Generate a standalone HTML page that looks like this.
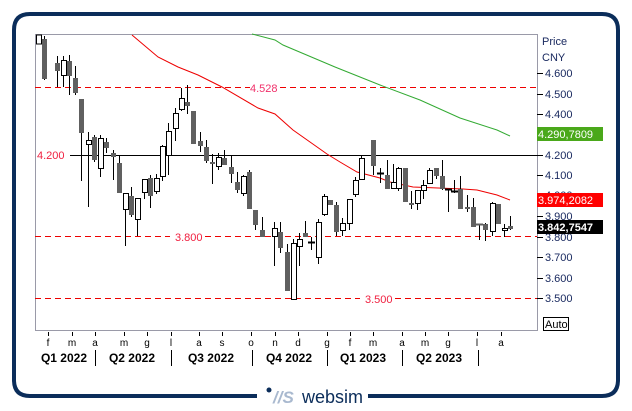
<!DOCTYPE html>
<html><head><meta charset="utf-8"><style>
html,body{margin:0;padding:0;background:#fff;}
svg{display:block;font-family:"Liberation Sans",sans-serif;}
</style></head><body>
<svg width="632" height="411" viewBox="0 0 632 411" xmlns="http://www.w3.org/2000/svg">
<rect x="0" y="0" width="632" height="411" fill="#fff"/>
<!-- frame -->
<path d="M257 396 H30 Q14 396 14 380 V30 Q14 14 30 14 H602 Q618 14 618 30 V380 Q618 396 602 396 H368" fill="none" stroke="#0b2d5a" stroke-width="4"/>
<circle cx="269" cy="390" r="2.5" fill="#0b2d5a"/>
<text x="273" y="403" font-size="17" font-style="italic" font-weight="bold" fill="#a9b9cf">//S</text>
<text x="302" y="403" font-size="18" fill="#0b2d5a">websim</text>
<!-- plot box -->
<rect x="35.5" y="34.5" width="502" height="296" fill="#fff" stroke="#9a9aa8" stroke-width="1"/>
<!-- horizontal lines -->
<line x1="35" y1="87.5" x2="250" y2="87.5" stroke="#e00" stroke-dasharray="6,4"/>
<line x1="280" y1="87.5" x2="537" y2="87.5" stroke="#e00" stroke-dasharray="6,4"/>
<text x="250" y="92" font-size="11" fill="#f0306a">4.528</text>
<line x1="70" y1="155.5" x2="537" y2="155.5" stroke="#000"/>
<text x="37" y="159" font-size="11" fill="#f02040">4.200</text>
<line x1="35" y1="236.5" x2="170" y2="236.5" stroke="#e00" stroke-dasharray="6,4"/>
<line x1="205" y1="236.5" x2="537" y2="236.5" stroke="#e00" stroke-dasharray="6,4"/>
<text x="175" y="241" font-size="11" fill="#f02040">3.800</text>
<line x1="35" y1="298.5" x2="360" y2="298.5" stroke="#e00" stroke-dasharray="6,4"/>
<line x1="395" y1="298.5" x2="537" y2="298.5" stroke="#e00" stroke-dasharray="6,4"/>
<text x="365" y="303" font-size="11" fill="#f02040">3.500</text>
<!-- MAs -->
<polyline fill="none" stroke="#e00" stroke-width="1" points="132,35 158,57 178,67 198,75 222,87 258,108 275,114 293,130 327,154 340,162 357,172 380,178 390,182 413,187 463,189 477,190 497,195 510,200"/>
<polyline fill="none" stroke="#3a3" stroke-width="1" points="252,34 275,40 283,45 335,67 380,85 420,100 460,118 497,130 510,136"/>
<!-- candles -->
<g stroke="#000" stroke-width="1">
<line x1="38.5" y1="35" x2="38.5" y2="44"/><rect x="36.5" y="35" width="5" height="9" fill="#fff"/>
<line x1="44.5" y1="36" x2="44.5" y2="80"/><rect x="42" y="39" width="5" height="40" fill="#606060" stroke="none"/>
<line x1="57.5" y1="56" x2="57.5" y2="87"/><rect x="55" y="63" width="5" height="8" fill="#606060" stroke="none"/>
<line x1="63.5" y1="56" x2="63.5" y2="87"/><rect x="61.5" y="60.5" width="5" height="15" fill="#fff"/>
<line x1="69.5" y1="55" x2="69.5" y2="95"/><rect x="67" y="61" width="5" height="15" fill="#606060" stroke="none"/>
<line x1="75.5" y1="66" x2="75.5" y2="95"/><rect x="73" y="78" width="5" height="15" fill="#606060" stroke="none"/>
<line x1="81.5" y1="99" x2="81.5" y2="181"/><rect x="79" y="99" width="5" height="34" fill="#606060" stroke="none"/>
<line x1="88.5" y1="132" x2="88.5" y2="207"/><rect x="86.5" y="140.5" width="5" height="4" fill="#fff"/>
<line x1="94.5" y1="135" x2="94.5" y2="162"/><rect x="92" y="137" width="5" height="23" fill="#606060" stroke="none"/>
<line x1="100.5" y1="135" x2="100.5" y2="177"/><rect x="98.5" y="138.5" width="5" height="30" fill="#fff"/>
<line x1="106.5" y1="138" x2="106.5" y2="153"/><rect x="104" y="142" width="5" height="6" fill="#606060" stroke="none"/>
<line x1="113.5" y1="150" x2="113.5" y2="180"/><rect x="111" y="153" width="5" height="4" fill="#606060" stroke="none"/>
<line x1="119.5" y1="156" x2="119.5" y2="193"/><rect x="117" y="163" width="5" height="30" fill="#606060" stroke="none"/>
<line x1="125.5" y1="193" x2="125.5" y2="246"/><rect x="123.5" y="193.5" width="5" height="16" fill="#fff"/>
<line x1="131.5" y1="187" x2="131.5" y2="217"/><rect x="129" y="196" width="5" height="19" fill="#606060" stroke="none"/>
<line x1="137.5" y1="198" x2="137.5" y2="236"/><rect x="135.5" y="198.5" width="5" height="21" fill="#fff"/>
<line x1="144.5" y1="179" x2="144.5" y2="199"/><rect x="142.5" y="179.5" width="5" height="13" fill="#fff"/>
<line x1="150.5" y1="175" x2="150.5" y2="208"/><rect x="148" y="178" width="5" height="18" fill="#606060" stroke="none"/>
<line x1="156.5" y1="174" x2="156.5" y2="194"/><rect x="154.5" y="178.5" width="5" height="13" fill="#fff"/>
<line x1="162.5" y1="145" x2="162.5" y2="181"/><rect x="160.5" y="146.5" width="5" height="30" fill="#fff"/>
<line x1="168.5" y1="123" x2="168.5" y2="175"/><rect x="166.5" y="131.5" width="5" height="24" fill="#fff"/>
<line x1="175.5" y1="108" x2="175.5" y2="141"/><rect x="173.5" y="113.5" width="5" height="15" fill="#fff"/>
<line x1="181.5" y1="88" x2="181.5" y2="111"/><rect x="179.5" y="98.5" width="5" height="11" fill="#fff"/>
<line x1="187.5" y1="85" x2="187.5" y2="114"/><rect x="185" y="102" width="5" height="4" fill="#606060" stroke="none"/>
<line x1="193.5" y1="111" x2="193.5" y2="144"/><rect x="191" y="111" width="5" height="33" fill="#606060" stroke="none"/>
<line x1="200.5" y1="132" x2="200.5" y2="152"/><rect x="198" y="141" width="5" height="5" fill="#606060" stroke="none"/>
<line x1="206.5" y1="140" x2="206.5" y2="163"/><rect x="204" y="147" width="5" height="14" fill="#606060" stroke="none"/>
<line x1="212.5" y1="154" x2="212.5" y2="184"/><rect x="210" y="162" width="5" height="2" fill="#606060" stroke="none"/>
<line x1="218.5" y1="153" x2="218.5" y2="170"/><rect x="216.5" y="157.5" width="5" height="9" fill="#fff"/>
<line x1="224.5" y1="150" x2="224.5" y2="165"/><rect x="222" y="158" width="5" height="7" fill="#606060" stroke="none"/>
<line x1="231.5" y1="156" x2="231.5" y2="183"/><rect x="229" y="167" width="5" height="7" fill="#606060" stroke="none"/>
<line x1="237.5" y1="172" x2="237.5" y2="193"/><rect x="235" y="182" width="5" height="8" fill="#606060" stroke="none"/>
<line x1="243.5" y1="175" x2="243.5" y2="196"/><rect x="241.5" y="176.5" width="5" height="17" fill="#fff"/>
<line x1="249.5" y1="170" x2="249.5" y2="209"/><rect x="247" y="172" width="5" height="37" fill="#606060" stroke="none"/>
<line x1="255.5" y1="210" x2="255.5" y2="230"/><rect x="253" y="210" width="5" height="15" fill="#606060" stroke="none"/>
<line x1="262.5" y1="217" x2="262.5" y2="237"/><rect x="260" y="230" width="5" height="7" fill="#606060" stroke="none"/>
<line x1="274.5" y1="222" x2="274.5" y2="266"/><rect x="272.5" y="228.5" width="5" height="8" fill="#fff"/>
<line x1="280.5" y1="222" x2="280.5" y2="253"/><rect x="278" y="232" width="5" height="16" fill="#606060" stroke="none"/>
<line x1="287.5" y1="244" x2="287.5" y2="291"/><rect x="285" y="252" width="5" height="39" fill="#606060" stroke="none"/>
<line x1="293.5" y1="239" x2="293.5" y2="300"/><rect x="291.5" y="243.5" width="5" height="56" fill="#fff"/>
<line x1="299.5" y1="233" x2="299.5" y2="266"/><rect x="297.5" y="239.5" width="5" height="7" fill="#fff"/>
<line x1="305.5" y1="221" x2="305.5" y2="237"/><rect x="303" y="233" width="5" height="4" fill="#606060" stroke="none"/>
<line x1="311.5" y1="237" x2="311.5" y2="250"/><line x1="308" y1="242.5" x2="315" y2="242.5" stroke-width="2"/>
<line x1="318.5" y1="219" x2="318.5" y2="264"/><rect x="316.5" y="222.5" width="5" height="35" fill="#fff"/>
<line x1="324.5" y1="194" x2="324.5" y2="216"/><rect x="322.5" y="196.5" width="5" height="18" fill="#fff"/>
<line x1="330.5" y1="200" x2="330.5" y2="205"/><rect x="328" y="200" width="5" height="5" fill="#606060" stroke="none"/>
<line x1="336.5" y1="202" x2="336.5" y2="236"/><rect x="334" y="205" width="5" height="27" fill="#606060" stroke="none"/>
<line x1="342.5" y1="218" x2="342.5" y2="236"/><rect x="340.5" y="223.5" width="5" height="7" fill="#fff"/>
<line x1="349.5" y1="199" x2="349.5" y2="230"/><rect x="347.5" y="199.5" width="5" height="24" fill="#fff"/>
<line x1="355.5" y1="177" x2="355.5" y2="197"/><rect x="353.5" y="180.5" width="5" height="14" fill="#fff"/>
<line x1="361.5" y1="155" x2="361.5" y2="180"/><rect x="359.5" y="158.5" width="5" height="21" fill="#fff"/>
<line x1="373.5" y1="140" x2="373.5" y2="175"/><rect x="371" y="140" width="5" height="26" fill="#606060" stroke="none"/>
<line x1="380.5" y1="168" x2="380.5" y2="183"/><line x1="377" y1="173.5" x2="384" y2="173.5" stroke-width="2"/>
<line x1="387.5" y1="160" x2="387.5" y2="189"/><rect x="385" y="175" width="5" height="14" fill="#606060" stroke="none"/>
<line x1="393.5" y1="164" x2="393.5" y2="189"/><rect x="391.5" y="182.5" width="5" height="6" fill="#fff"/>
<line x1="398.5" y1="167" x2="398.5" y2="191"/><rect x="396.5" y="168.5" width="5" height="20" fill="#fff"/>
<line x1="405.5" y1="168" x2="405.5" y2="202"/><rect x="403" y="168" width="5" height="34" fill="#606060" stroke="none"/>
<line x1="411.5" y1="191" x2="411.5" y2="209"/><rect x="409" y="203" width="5" height="2" fill="#606060" stroke="none"/>
<line x1="417.5" y1="190" x2="417.5" y2="210"/><rect x="415.5" y="190.5" width="5" height="13" fill="#fff"/>
<line x1="423.5" y1="180" x2="423.5" y2="199"/><rect x="421.5" y="185.5" width="5" height="5" fill="#fff"/>
<line x1="429.5" y1="168" x2="429.5" y2="184"/><rect x="427.5" y="170.5" width="5" height="13" fill="#fff"/>
<line x1="436.5" y1="168" x2="436.5" y2="179"/><rect x="434" y="168" width="5" height="8" fill="#606060" stroke="none"/>
<line x1="442.5" y1="160" x2="442.5" y2="190"/><rect x="440" y="176" width="5" height="13" fill="#606060" stroke="none"/>
<line x1="448.5" y1="189" x2="448.5" y2="212"/><line x1="445" y1="189.5" x2="452" y2="189.5" stroke-width="2"/>
<line x1="454.5" y1="180" x2="454.5" y2="193"/><line x1="451" y1="191.5" x2="458" y2="191.5" stroke-width="2"/>
<line x1="460.5" y1="176" x2="460.5" y2="209"/><rect x="458" y="189" width="5" height="20" fill="#606060" stroke="none"/>
<line x1="467.5" y1="195" x2="467.5" y2="212"/><rect x="465" y="207" width="5" height="2" fill="#606060" stroke="none"/>
<line x1="473.5" y1="198" x2="473.5" y2="227"/><rect x="471" y="207" width="5" height="20" fill="#606060" stroke="none"/>
<line x1="479.5" y1="224" x2="479.5" y2="240"/><line x1="476" y1="224.5" x2="483" y2="224.5" stroke="#606060" stroke-width="2"/>
<line x1="485.5" y1="223" x2="485.5" y2="241"/><rect x="483" y="224" width="5" height="6" fill="#606060" stroke="none"/>
<line x1="492.5" y1="202" x2="492.5" y2="236"/><rect x="490.5" y="203.5" width="5" height="28" fill="#fff"/>
<line x1="498.5" y1="204" x2="498.5" y2="224"/><rect x="496" y="204" width="5" height="20" fill="#606060" stroke="none"/>
<line x1="504.5" y1="224" x2="504.5" y2="237"/><rect x="502.5" y="228.5" width="5" height="2" fill="#fff"/>
<line x1="510.5" y1="216" x2="510.5" y2="230"/><rect x="508" y="226" width="5" height="3" fill="#606060" stroke="none"/>
</g>
<!-- right axis -->
<g font-size="11" fill="#1a2a60">
<text x="542" y="45">Price</text>
<text x="542" y="61">CNY</text>
</g>
<g stroke="#000">
<line x1="537" y1="73.5" x2="543" y2="73.5"/><line x1="537" y1="94.5" x2="543" y2="94.5"/><line x1="537" y1="114.5" x2="543" y2="114.5"/><line x1="537" y1="135.5" x2="543" y2="135.5"/><line x1="537" y1="155.5" x2="543" y2="155.5"/><line x1="537" y1="175.5" x2="543" y2="175.5"/><line x1="537" y1="196.5" x2="543" y2="196.5"/><line x1="537" y1="216.5" x2="543" y2="216.5"/><line x1="537" y1="237.5" x2="543" y2="237.5"/><line x1="537" y1="257.5" x2="543" y2="257.5"/><line x1="537" y1="278.5" x2="543" y2="278.5"/><line x1="537" y1="298.5" x2="543" y2="298.5"/>
</g>
<g font-size="11" fill="#1a2a60">
<text x="545" y="77">4.600</text><text x="545" y="98">4.500</text><text x="545" y="118">4.400</text><text x="545" y="159">4.200</text><text x="545" y="179">4.100</text><text x="545" y="199">4.000</text><text x="545" y="220">3.900</text><text x="545" y="241">3.800</text><text x="545" y="261">3.700</text><text x="545" y="282">3.600</text><text x="545" y="302">3.500</text>
</g>
<rect x="537" y="127" width="66" height="14" fill="#4aa81a"/>
<text x="538" y="138" font-size="11" fill="#fff">4.290,7809</text>
<rect x="537" y="193" width="66" height="14" fill="#f00"/>
<text x="538" y="204" font-size="11" fill="#fff">3.974,2082</text>
<rect x="537" y="220" width="66" height="14" fill="#000"/>
<text x="538" y="231" font-size="11" font-weight="bold" fill="#fff">3.842,7547</text>
<rect x="543.5" y="317.5" width="25" height="13" fill="#fff" stroke="#000"/>
<text x="545" y="328" font-size="11" fill="#000">Auto</text>
<!-- bottom axis -->
<g stroke="#000">
<line x1="48.5" y1="332" x2="48.5" y2="336"/><line x1="72.5" y1="332" x2="72.5" y2="336"/><line x1="95.5" y1="332" x2="95.5" y2="336"/><line x1="124.5" y1="332" x2="124.5" y2="336"/><line x1="147.5" y1="332" x2="147.5" y2="336"/><line x1="171.5" y1="332" x2="171.5" y2="336"/><line x1="199.5" y1="332" x2="199.5" y2="336"/><line x1="222.5" y1="332" x2="222.5" y2="336"/><line x1="251.5" y1="332" x2="251.5" y2="336"/><line x1="275.5" y1="332" x2="275.5" y2="336"/><line x1="298.5" y1="332" x2="298.5" y2="336"/><line x1="327.5" y1="332" x2="327.5" y2="336"/><line x1="350.5" y1="332" x2="350.5" y2="336"/><line x1="373.5" y1="332" x2="373.5" y2="336"/><line x1="402.5" y1="332" x2="402.5" y2="336"/><line x1="425.5" y1="332" x2="425.5" y2="336"/><line x1="448.5" y1="332" x2="448.5" y2="336"/><line x1="477.5" y1="332" x2="477.5" y2="336"/><line x1="501.5" y1="332" x2="501.5" y2="336"/>
<line x1="95.5" y1="350" x2="95.5" y2="366"/><line x1="171.5" y1="350" x2="171.5" y2="366"/><line x1="252.5" y1="350" x2="252.5" y2="366"/><line x1="327.5" y1="350" x2="327.5" y2="366"/><line x1="402.5" y1="350" x2="402.5" y2="366"/><line x1="478.5" y1="350" x2="478.5" y2="366"/>
</g>
<g font-size="10" fill="#000" text-anchor="middle">
<text x="48" y="346">f</text><text x="72" y="346">m</text><text x="95" y="346">a</text><text x="124" y="346">m</text><text x="147" y="346">g</text><text x="171" y="346">l</text><text x="199" y="346">a</text><text x="222" y="346">s</text><text x="251" y="346">o</text><text x="275" y="346">n</text><text x="298" y="346">d</text><text x="327" y="346">g</text><text x="350" y="346">f</text><text x="373" y="346">m</text><text x="402" y="346">a</text><text x="425" y="346">m</text><text x="448" y="346">g</text><text x="477" y="346">l</text><text x="501" y="346">a</text>
</g>
<g font-size="12" font-weight="bold" fill="#000" text-anchor="middle">
<text x="64" y="362">Q1 2022</text><text x="132" y="362">Q2 2022</text><text x="211" y="362">Q3 2022</text><text x="289" y="362">Q4 2022</text><text x="363" y="362">Q1 2023</text><text x="439" y="362">Q2 2023</text>
</g>
</svg>
</body></html>
